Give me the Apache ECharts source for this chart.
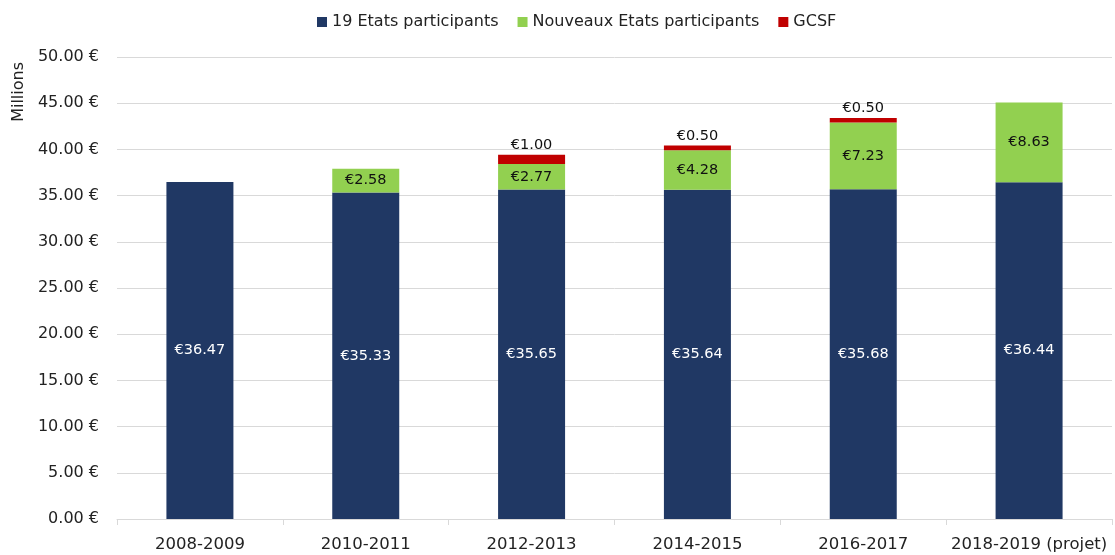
<!DOCTYPE html>
<html lang="fr">
<head>
	<meta charset="UTF-8">
	<title>Contributions</title>
	<style>
		html, body { margin: 0; padding: 0; background: #fff; }
		#box { width: 1115px; height: 555px; }
	</style>
</head>
<body>
	<div id="box"></div>
	<script src="https://cdn.jsdelivr.net/npm/echarts@6/dist/echarts.min.js"></script>
	<script>
		// categories and series values (millions of euros)
		var categories = ['2008-2009', '2010-2011', '2012-2013', '2014-2015', '2016-2017', '2018-2019 (projet)'];
		var etats19 = [36.47, 35.33, 35.65, 35.64, 35.68, 36.44];
		var nouveaux = [null, 2.58, 2.77, 4.28, 7.23, 8.63];
		var gcsf = [null, null, 1.00, 0.50, 0.50, null];

		var font = 'DejaVu Sans';

		var myChart = echarts.init(document.getElementById('box'));

		function euro(p) {
			return '€' + Number(p.value).toFixed(2);
		}

		var option = {
			animation: false,
			textStyle: { fontFamily: font },
			legend: {
				top: 9,
				left: 312,
				itemWidth: 10,
				itemHeight: 10,
				itemGap: 19,
				icon: 'rect',
				textStyle: { fontFamily: font, fontSize: 16, color: '#222' },
				data: ['19 Etats participants', 'Nouveaux Etats participants', 'GCSF']
			},
			grid: { left: 117, right: 3, top: 57, bottom: 36 },
			graphic: [{
				type: 'text',
				left: 11,
				top: 62,
				rotation: Math.PI / 2,
				style: { text: 'Millions', fontFamily: font, fontSize: 16, fill: '#222' }
			}],
			xAxis: {
				type: 'category',
				data: categories,
				axisLine: { lineStyle: { color: '#d9d9d9' } },
				axisTick: { show: true, interval: 0, length: 6, lineStyle: { color: '#d9d9d9' } },
				axisLabel: { interval: 0, fontFamily: font, fontSize: 16.5, color: '#222', margin: 17 }
			},
			yAxis: {
				type: 'value',
				min: 0,
				max: 50,
				interval: 5,
				axisLine: { show: false },
				axisTick: { show: false },
				splitLine: { lineStyle: { color: '#d9d9d9' } },
				axisLabel: {
					fontFamily: font, fontSize: 16, color: '#222', margin: 18,
					formatter: function (v) { return v.toFixed(2) + ' €'; }
				}
			},
			series: [{
				name: '19 Etats participants',
				type: 'bar',
				stack: 'total',
				barWidth: '40.4%',
				itemStyle: { color: '#203864' },
				label: { show: true, position: 'inside', color: '#fff', fontFamily: font, fontSize: 14.5, formatter: euro },
				data: etats19
			}, {
				name: 'Nouveaux Etats participants',
				type: 'bar',
				stack: 'total',
				itemStyle: { color: '#92D050' },
				label: { show: true, position: 'inside', color: '#111', fontFamily: font, fontSize: 14.5, formatter: euro },
				data: nouveaux
			}, {
				name: 'GCSF',
				type: 'bar',
				stack: 'total',
				itemStyle: { color: '#C00000' },
				label: { show: true, position: 'top', distance: 2, color: '#111', fontFamily: font, fontSize: 14.5, formatter: euro },
				data: gcsf
			}]
		};

		myChart.setOption(option);
	</script>
</body>
</html>
